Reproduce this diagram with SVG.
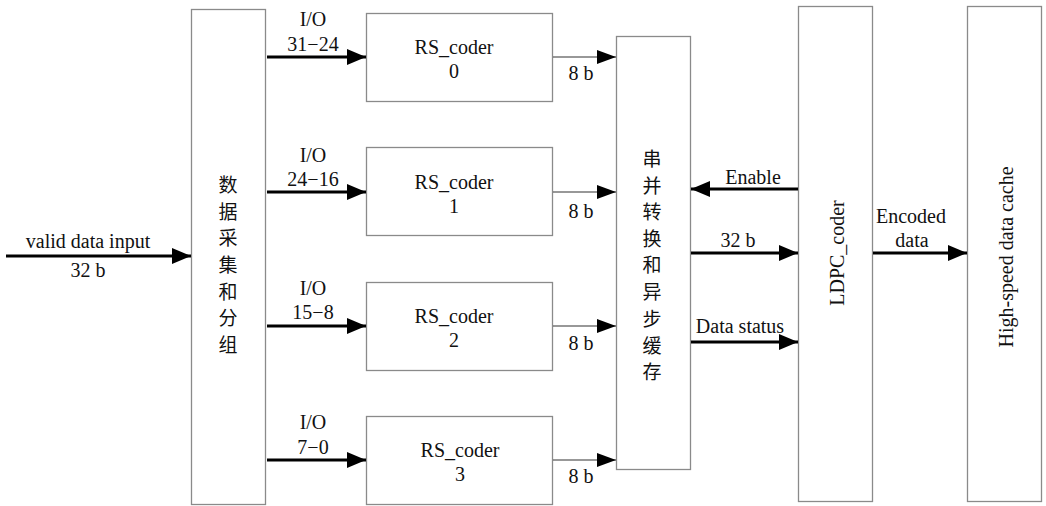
<svg xmlns="http://www.w3.org/2000/svg" width="1046" height="506" viewBox="0 0 1046 506">
  <defs>
    <marker id="headBold" markerUnits="userSpaceOnUse" markerWidth="20" markerHeight="16" refX="19" refY="8" orient="auto">
      <path d="M0,0 L19,8 L0,16 z" fill="#000"/>
    </marker>
    <marker id="headThin" markerUnits="userSpaceOnUse" markerWidth="20" markerHeight="14" refX="19" refY="7" orient="auto">
      <path d="M0,0 L19,7 L0,14 z" fill="#000"/>
    </marker>
    <style>
      .box { fill: #fff; stroke: #8a8a8a; stroke-width: 1.3; }
      .lbl { font-family: "Liberation Serif", "Times New Roman", serif; font-size: 20px; fill: #111; text-anchor: middle; }
      .cjk { font-family: "Noto Sans CJK SC", "Noto Sans CJK JP", sans-serif; font-size: 19px; fill: #111; text-anchor: middle; }
      .bold { stroke: #000; stroke-width: 3; fill: none; marker-end: url(#headBold); }
      .thin { stroke: #333; stroke-width: 1.2; fill: none; marker-end: url(#headThin); }
    </style>
  </defs>
  <rect width="1046" height="506" fill="#fff"/>

  <!-- data capture and grouping -->
  <g id="node-capture">
    <rect class="box" x="191.5" y="9.5" width="74" height="495"/>
    <text class="cjk" x="228" y="192">数</text>
    <text class="cjk" x="228" y="219">据</text>
    <text class="cjk" x="228" y="245">采</text>
    <text class="cjk" x="228" y="272">集</text>
    <text class="cjk" x="228" y="299">和</text>
    <text class="cjk" x="228" y="325">分</text>
    <text class="cjk" x="228" y="352">组</text>
  </g>

  <!-- RS encoders -->
  <g id="node-rs0">
    <rect class="box" x="366.5" y="13.5" width="186" height="88"/>
    <text class="lbl" x="454" y="54">RS_coder</text>
    <text class="lbl" x="454" y="78">0</text>
  </g>
  <g id="node-rs1">
    <rect class="box" x="366.5" y="147.5" width="186" height="88"/>
    <text class="lbl" x="454" y="189">RS_coder</text>
    <text class="lbl" x="454" y="213">1</text>
  </g>
  <g id="node-rs2">
    <rect class="box" x="366.5" y="282.5" width="186" height="88"/>
    <text class="lbl" x="454" y="323">RS_coder</text>
    <text class="lbl" x="454" y="347">2</text>
  </g>
  <g id="node-rs3">
    <rect class="box" x="366.5" y="416.5" width="186" height="88"/>
    <text class="lbl" x="460" y="457">RS_coder</text>
    <text class="lbl" x="460" y="481">3</text>
  </g>

  <!-- serial/parallel conversion and async buffer -->
  <g id="node-buffer">
    <rect class="box" x="616.5" y="36.5" width="74" height="433"/>
    <text class="cjk" x="652" y="166">串</text>
    <text class="cjk" x="652" y="193">并</text>
    <text class="cjk" x="652" y="219">转</text>
    <text class="cjk" x="652" y="246">换</text>
    <text class="cjk" x="652" y="272">和</text>
    <text class="cjk" x="652" y="299">异</text>
    <text class="cjk" x="652" y="326">步</text>
    <text class="cjk" x="652" y="353">缓</text>
    <text class="cjk" x="652" y="379">存</text>
  </g>

  <!-- LDPC encoder -->
  <g id="node-ldpc">
    <rect class="box" x="798.5" y="6.5" width="74" height="495"/>
    <text class="lbl" transform="translate(844,253) rotate(-90)">LDPC_coder</text>
  </g>

  <!-- output cache -->
  <g id="node-cache">
    <rect class="box" x="967.5" y="6.5" width="74" height="495"/>
    <text class="lbl" transform="translate(1013,257) rotate(-90)">High-speed data cache</text>
  </g>

  <!-- connectors -->
  <g id="connectors">
    <line class="bold" x1="6" y1="256" x2="191" y2="256"/>
    <text class="lbl" x="88" y="248">valid data input</text>
    <text class="lbl" x="88" y="277">32 b</text>

    <line class="bold" x1="267" y1="57" x2="366" y2="57"/>
    <text class="lbl" x="313" y="26">I/O</text>
    <text class="lbl" x="313" y="51">31−24</text>
    <line class="bold" x1="267" y1="192" x2="366" y2="192"/>
    <text class="lbl" x="313" y="162">I/O</text>
    <text class="lbl" x="313" y="186">24−16</text>
    <line class="bold" x1="267" y1="326" x2="366" y2="326"/>
    <text class="lbl" x="313" y="295">I/O</text>
    <text class="lbl" x="313" y="319">15−8</text>
    <line class="bold" x1="267" y1="460" x2="366" y2="460"/>
    <text class="lbl" x="313" y="429">I/O</text>
    <text class="lbl" x="313" y="454">7−0</text>

    <line class="thin" x1="553" y1="57" x2="616" y2="57"/>
    <text class="lbl" x="581" y="80">8 b</text>
    <line class="thin" x1="553" y1="192" x2="616" y2="192"/>
    <text class="lbl" x="581" y="218">8 b</text>
    <line class="thin" x1="553" y1="326" x2="616" y2="326"/>
    <text class="lbl" x="581" y="350">8 b</text>
    <line class="thin" x1="553" y1="460" x2="616" y2="460"/>
    <text class="lbl" x="581" y="483">8 b</text>

    <line class="bold" x1="798" y1="189" x2="691" y2="189"/>
    <text class="lbl" x="753" y="184">Enable</text>
    <line class="bold" x1="691" y1="253" x2="798" y2="253"/>
    <text class="lbl" x="738" y="247">32 b</text>
    <line class="bold" x1="691" y1="342" x2="798" y2="342"/>
    <text class="lbl" x="740" y="333">Data status</text>

    <line class="bold" x1="873" y1="253" x2="967" y2="253"/>
    <text class="lbl" x="911" y="223">Encoded</text>
    <text class="lbl" x="912" y="247">data</text>
  </g>
</svg>
